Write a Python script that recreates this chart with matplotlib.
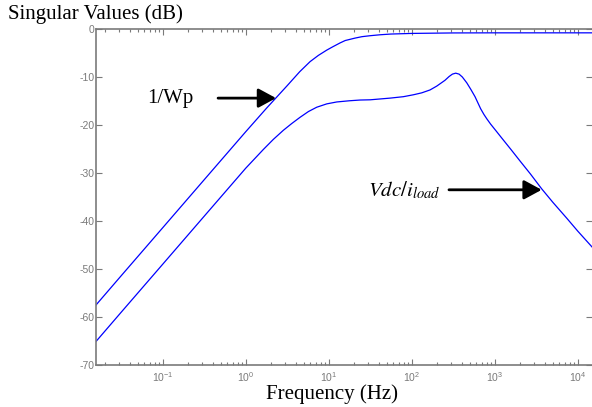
import matplotlib
matplotlib.use("Agg")
import matplotlib.pyplot as plt
from matplotlib.ticker import FixedLocator, LogLocator, LogFormatterSciNotation, NullFormatter

plt.rcParams['axes.unicode_minus'] = False
plt.rcParams['mathtext.fontset'] = 'stix'
plt.rcParams['font.family'] = 'Liberation Sans'

# values: frequency (Hz) and singular value (dB)
wp_freq = [0.0157, 0.0316, 0.1, 0.316, 1, 1.78, 3.16, 4.47, 5.96, 7.5, 9.46,
           11.2, 13.7, 15.8, 20.7, 25.1, 31.5, 41.7, 56.2, 100, 316, 1000, 14860]
wp_db = [-57.5, -51.4, -41.4, -31.4, -21.4, -16.5, -11.8, -8.9, -6.8, -5.5, -4.4,
         -3.7, -2.9, -2.4, -1.9, -1.6, -1.4, -1.2, -1.05, -0.92, -0.82, -0.8, -0.8]

vdc_freq = [0.0157, 0.0316, 0.1, 0.316, 1, 1.63, 2.15, 2.84, 3.58, 4.51, 5.69,
            7.16, 9.46, 12.5, 17.8, 23.8, 31.6, 54.8, 79.4, 105, 132, 166, 200,
            251, 282, 309, 339, 372, 407, 460, 516, 579, 676, 741, 802, 891,
            1057, 1213, 1585, 2018, 2692, 3681, 5012, 7362, 10000, 14860]
vdc_db = [-65.1, -59.0, -49.0, -39.0, -29.0, -25.1, -23.0, -21.1, -19.7, -18.4, -17.2,
          -16.3, -15.6, -15.2, -14.95, -14.8, -14.75, -14.4, -14.1, -13.7, -13.3, -12.7, -11.9,
          -10.7, -9.9, -9.4, -9.2, -9.4, -10.0, -11.2, -12.6, -14.1, -16.6, -17.8, -18.7, -19.8,
          -21.4, -22.7, -25.2, -27.5, -30.2, -33.3, -36.1, -39.4, -42.1, -45.4]

x_ticks = [0.1, 1, 10, 100, 1000, 10000]
y_ticks = [0, -10, -20, -30, -40, -50, -60, -70]

grey = '#7a7a7a'

fig = plt.figure(figsize=(5.92, 4.07), dpi=100)
ax = fig.add_axes([96/592, 1 - 365/407, 1 - 96/592, (365 - 29)/407])

ax.semilogx(wp_freq, wp_db, color='#0000ff', lw=0.9)
ax.semilogx(vdc_freq, vdc_db, color='#0000ff', lw=0.9)

ax.set_xlim(0.0157, 14860)
ax.set_ylim(-70, 0)
ax.set_yticks(y_ticks)
ax.xaxis.set_major_locator(FixedLocator(x_ticks))
ax.xaxis.set_major_formatter(LogFormatterSciNotation())
ax.xaxis.set_minor_locator(LogLocator(base=10, subs=range(2, 10)))
ax.xaxis.set_minor_formatter(NullFormatter())

for s in ['left', 'bottom', 'top']:
    ax.spines[s].set_color(grey)
    ax.spines[s].set_linewidth(1.2)
ax.spines['right'].set_visible(False)

ax.tick_params(axis='both', which='both', direction='in', colors=grey,
               labelcolor=grey, labelsize=7.5, width=0.8)
ax.tick_params(axis='x', which='both', top=True)
ax.tick_params(axis='x', which='major', length=4, pad=4)
ax.tick_params(axis='x', which='minor', length=2)
ax.tick_params(axis='y', which='major', right=True, length=4, pad=1)

# labels
fig.text(8/592, 1 - 14/407, 'Singular Values (dB)', family='Liberation Serif',
         fontsize=15, ha='left', va='center')
fig.text(332/592, 1 - 394/407, 'Frequency (Hz)', family='Liberation Serif',
         fontsize=15, ha='center', va='center')

arrow = dict(arrowstyle='-|>,head_length=0.72,head_width=0.39', mutation_scale=15,
             color='black', lw=2, shrinkA=0, shrinkB=0)

ax.text(0.1225, -14.4, '1/Wp', family='Liberation Serif', fontsize=15,
        ha='center', va='center')
ax.annotate('', xy=(2.32, -14.4), xytext=(0.464, -14.4), arrowprops=arrow)

ax.text(29.7, -33.5, r'$Vdc/i_{load}$', fontsize=15, ha='left', va='center')
ax.annotate('', xy=(3681, -33.5), xytext=(281, -33.5), arrowprops=arrow)

fig.savefig('out.png', dpi=100)
